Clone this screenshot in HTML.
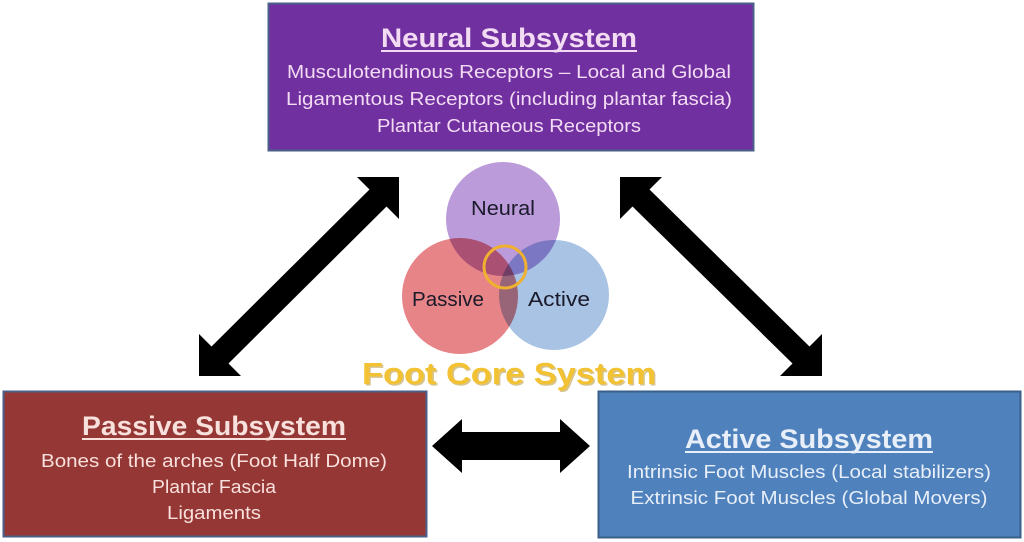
<!DOCTYPE html>
<html><head><meta charset="utf-8"><style>
html,body{margin:0;padding:0;background:#fff;}
svg{display:block;}
text{font-family:"Liberation Sans",sans-serif;}
</style></head><body>
<svg width="1024" height="542" viewBox="0 0 1024 542" xmlns="http://www.w3.org/2000/svg">
<rect width="1024" height="542" fill="#fff"/>
<rect x="268.5" y="3.5" width="485" height="147" fill="#7030a0" stroke="#4a5f8a" stroke-width="2"/>
<g fill="#f3dcf3" text-anchor="middle">
<text x="509" y="47" font-size="27" font-weight="bold" textLength="256" lengthAdjust="spacingAndGlyphs">Neural Subsystem</text>
<rect x="381" y="50" width="256" height="2"/>
<text x="509" y="78" font-size="18" textLength="444" lengthAdjust="spacingAndGlyphs">Musculotendinous Receptors – Local and Global</text>
<text x="509" y="105" font-size="18" textLength="446" lengthAdjust="spacingAndGlyphs">Ligamentous Receptors (including plantar fascia)</text>
<text x="509" y="132" font-size="18" textLength="264" lengthAdjust="spacingAndGlyphs">Plantar Cutaneous Receptors</text>
</g>
<rect x="3.5" y="391.5" width="423" height="145" fill="#953735" stroke="#4a5f8a" stroke-width="2"/>
<g fill="#f8e0dc" text-anchor="middle">
<text x="214" y="435" font-size="27" font-weight="bold" textLength="264" lengthAdjust="spacingAndGlyphs">Passive Subsystem</text>
<rect x="82" y="438" width="264" height="2"/>
<text x="214" y="467" font-size="18" textLength="346" lengthAdjust="spacingAndGlyphs">Bones of the arches (Foot Half Dome)</text>
<text x="214" y="493" font-size="18" textLength="124" lengthAdjust="spacingAndGlyphs">Plantar Fascia</text>
<text x="214" y="519" font-size="18" textLength="94" lengthAdjust="spacingAndGlyphs">Ligaments</text>
</g>
<rect x="598.5" y="391.5" width="422" height="146" fill="#4f81bd" stroke="#3a5f8a" stroke-width="2"/>
<g fill="#e8eff8" text-anchor="middle">
<text x="809" y="448" font-size="27" font-weight="bold" textLength="248" lengthAdjust="spacingAndGlyphs">Active Subsystem</text>
<rect x="685" y="451" width="248" height="2"/>
<text x="809" y="478" font-size="18" textLength="364" lengthAdjust="spacingAndGlyphs">Intrinsic Foot Muscles (Local stabilizers)</text>
<text x="809" y="504" font-size="18" textLength="357" lengthAdjust="spacingAndGlyphs">Extrinsic Foot Muscles (Global Movers)</text>
</g>
<polygon fill="#000" points="399,177 399,219 386.5,206.5 228.5,363.5 241,376 199,376 199,334 211.5,346.5 369.5,189.5 357,177"/>
<polygon fill="#000" points="620,177 662,177 649.5,189.5 809.5,346.5 822,334 822,376 780,376 792.5,363.5 632.5,206.5 620,219"/>
<polygon fill="#000" points="432,446 462,419 462,432 560,432 560,419 590,446 560,473 560,460 462,460 462,473"/>
<circle cx="503" cy="219" r="57" fill="#bb9bda"/>
<circle cx="460" cy="296" r="58" fill="#e36f72" fill-opacity="0.85" style="mix-blend-mode:multiply"/>
<circle cx="554" cy="295" r="55" fill="#9fbde0" fill-opacity="0.9" style="mix-blend-mode:multiply"/>
<circle cx="505" cy="267" r="21" fill="none" stroke="#f0b030" stroke-width="3"/>
<g fill="#1a1a2a" text-anchor="middle" font-size="20">
<text x="503" y="215" textLength="64" lengthAdjust="spacingAndGlyphs">Neural</text>
<text x="448" y="306" textLength="72" lengthAdjust="spacingAndGlyphs">Passive</text>
<text x="559" y="306" textLength="62" lengthAdjust="spacingAndGlyphs">Active</text>
</g>
<text x="509" y="384" text-anchor="middle" font-size="31" font-weight="bold" fill="#b08a20" textLength="294" lengthAdjust="spacingAndGlyphs" transform="translate(1.5,1.5)" opacity="0.5">Foot Core System</text>
<text x="509" y="384" text-anchor="middle" font-size="31" font-weight="bold" fill="#f2c233" textLength="294" lengthAdjust="spacingAndGlyphs">Foot Core System</text>
</svg>
</body></html>
